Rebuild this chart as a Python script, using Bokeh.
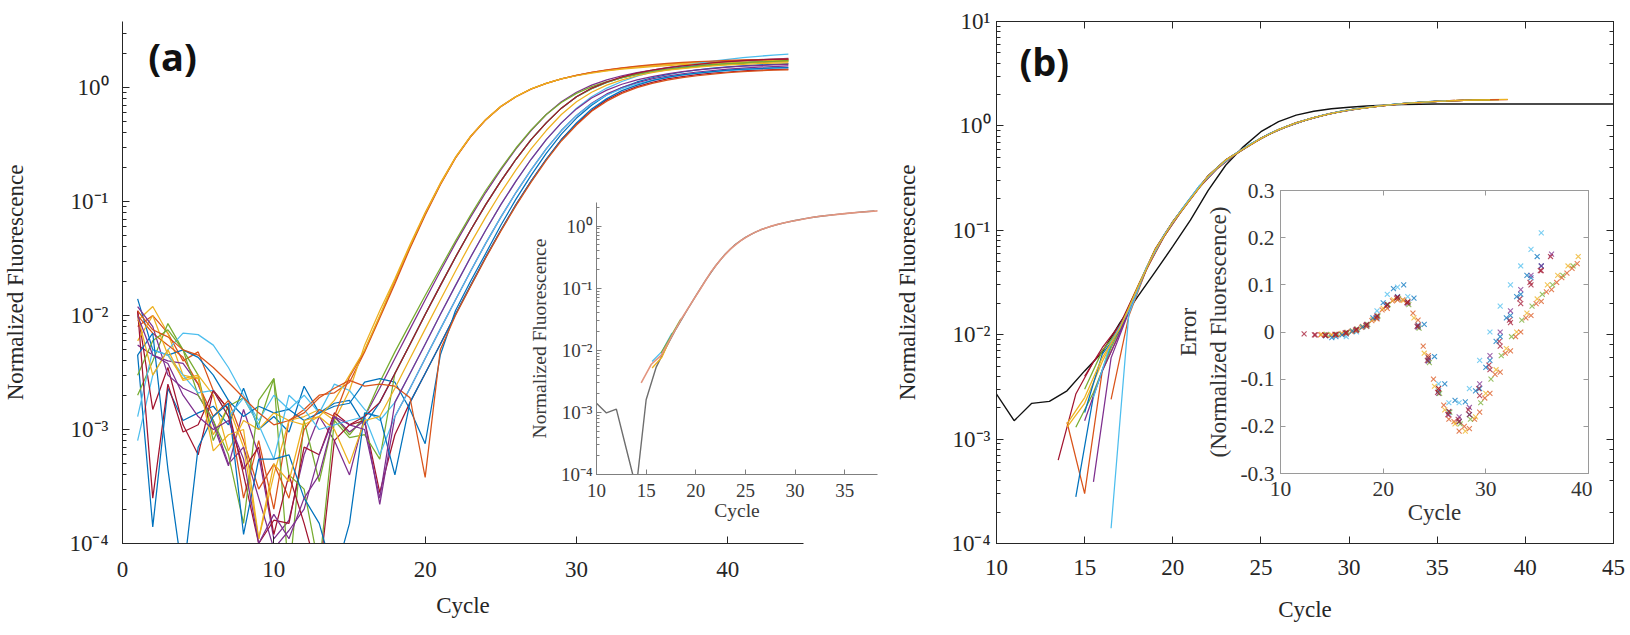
from bokeh.plotting import figure
from bokeh.models import (LogAxis, LinearAxis, FixedTicker, CustomJSTickFormatter, Label)
from bokeh.layouts import row, column
from bokeh.embed import file_html
from bokeh.resources import INLINE

# ---------------------------------------------------------------- data
# (a) amplification curves, one value per cycle
cycles_a = list(range(1, 45))

run01 = [4.5e-3, 1.4e-4, 2.3e-3, 1.2e-3, 1.4e-3, 1.6e-3, 1.1e-3, 2.3e-3, 1.0e-3, 1.3e-3, 9.5e-4, 2.4e-3, 1.4e-3, 1.7e-3, 1.8e-3, 1.1e-3,
         1.73e-3, 3.1e-3, 5.6e-3, 1.02e-2, 1.83e-2, 3.25e-2, 5.6e-2, 9.4e-2, 0.151, 0.235, 0.35, 0.49, 0.66, 0.83, 0.98, 1.11, 1.22, 1.31,
         1.39, 1.45, 1.51, 1.56, 1.60, 1.64, 1.67, 1.70, 1.72, 1.74]
run02 = [8e-3, 1e-2, 7e-3, 4e-3, 4.8e-3, 2.2e-3, 1.5e-3, 2.5e-4, 8e-4, 2e-4, 1.2e-3, 1.5e-3, 2e-3, 2.1e-3,
         2.6e-3, 4.8e-3, 9.5e-3, 1.9e-2, 3.9e-2, 7.6e-2, 0.14, 0.24, 0.37, 0.52, 0.68, 0.83, 0.97, 1.09, 1.19, 1.28, 1.36, 1.42, 1.48,
         1.53, 1.57, 1.61, 1.64, 1.67, 1.69, 1.71, 1.73, 1.74, 1.75, 1.76]
run03 = [9e-3, 1.2e-2, 7e-3, 3e-3, 2.8e-3, 9e-4, 1.6e-3, 7e-4, 1.1e-4, 4e-4, 1.2e-3, 1.3e-3, 1.5e-3, 1.2e-3, 2.2e-3,
         5.5e-3, 1.1e-2, 2.1e-2, 4.2e-2, 8e-2, 0.145, 0.245, 0.375, 0.525, 0.685, 0.835, 0.975, 1.09, 1.19, 1.28, 1.35, 1.41, 1.47,
         1.52, 1.56, 1.60, 1.63, 1.66, 1.68, 1.70, 1.71, 1.72, 1.73, 1.74]
run04 = [5.5e-3, 4.5e-3, 4e-3, 3.8e-3, 2.5e-3, 1.1e-3, 4.8e-4, 1.5e-3, 6e-4, 1.1e-4, 1.6e-4, 6e-4, 1.3e-3, 8e-4, 4e-4,
         1.3e-3, 2.3e-3, 4.2e-3, 7.6e-3, 1.37e-2, 2.45e-2, 4.3e-2, 7.3e-2, 0.12, 0.19, 0.29, 0.42, 0.58, 0.75, 0.91, 1.05, 1.17, 1.27,
         1.35, 1.42, 1.50, 1.56, 1.61, 1.65, 1.69, 1.72, 1.75, 1.78, 1.80]
run05 = [2e-3, 4e-3, 8.5e-3, 5e-3, 3e-3, 8e-4, 1.6e-3, 1.9e-3, 1.1e-3, 2.8e-3, 5e-5, 1.2e-3, 3.5e-4, 1.3e-3, 9e-4,
         1.3e-3, 2.6e-3, 4.8e-3, 8.5e-3, 1.5e-2, 2.6e-2, 4.5e-2, 7.6e-2, 0.125, 0.195, 0.295, 0.425, 0.58, 0.74, 0.89, 1.02, 1.13,
         1.22, 1.30, 1.37, 1.43, 1.48, 1.53, 1.57, 1.60, 1.63, 1.66, 1.68, 1.70]
run06 = [8e-4, 3e-3, 5e-3, 7e-3, 6.8e-3, 5.5e-3, 3.5e-3, 2e-3, 1.2e-3, 2e-3, 1.5e-3, 2e-3, 1.4e-3, 2.5e-3, 2.2e-3, 1.5e-3, 1.2e-3,
         1.73e-3, 3.1e-3, 5.6e-3, 1.02e-2, 1.83e-2, 3.25e-2, 5.6e-2, 9.4e-2, 0.151, 0.235, 0.35, 0.49, 0.66, 0.83, 0.99, 1.13, 1.26,
         1.37, 1.47, 1.56, 1.64, 1.71, 1.77, 1.83, 1.88, 1.93, 1.97]
run07 = [1.1e-2, 1.5e-3, 3.5e-3, 1.1e-3, 6e-4, 2.2e-3, 1.5e-3, 4e-4, 1e-4, 1.6e-4, 1.5e-4, 7e-4, 6e-4, 1.4e-3, 1.1e-3, 1.2e-3, 2.8e-4, 9e-4,
         1.73e-3, 3.1e-3, 5.6e-3, 1.02e-2, 1.83e-2, 3.25e-2, 5.6e-2, 9.4e-2, 0.151, 0.235, 0.35, 0.48, 0.63, 0.78, 0.91, 1.02, 1.11,
         1.19, 1.25, 1.30, 1.34, 1.37, 1.40, 1.42, 1.44, 1.45]
run08 = [1.4e-2, 5e-3, 4.5e-3, 5e-3, 4.3e-3, 3e-3, 1.8e-3, 1.3e-3, 1.6e-3, 1.4e-3, 1.5e-3, 1.2e-3, 1.4e-3, 1.6e-3, 1.7e-3, 2.6e-3, 2.8e-3,
         2.6e-3, 1.5e-3, 7.5e-4,
         4.5e-3, 1.1e-2, 2e-2, 3.5e-2, 6.2e-2, 0.105, 0.17, 0.265, 0.39, 0.54, 0.70, 0.86, 1.00, 1.12, 1.22, 1.30, 1.37, 1.43, 1.48,
         1.52, 1.55, 1.58, 1.60, 1.62]
run09 = [1e-2, 7e-3, 5.5e-3, 4.3e-3, 2.5e-3, 1.3e-3, 1.8e-3, 8e-4, 3e-4, 5e-4, 2.5e-4, 1e-3, 1.5e-3, 1.3e-3,
         2.9e-3, 4.9e-3, 9.8e-3, 2e-2, 4e-2, 7.8e-2, 0.142, 0.242, 0.372, 0.522, 0.682, 0.832, 0.972, 1.09, 1.19, 1.28, 1.36, 1.43,
         1.49, 1.54, 1.59, 1.63, 1.66, 1.69, 1.71, 1.73, 1.75, 1.76, 1.77, 1.78]
run10 = [6e-3, 1e-2, 4.5e-3, 2.8e-3, 3e-3, 2e-3, 6.5e-4, 1.2e-3, 1e-3, 1.4e-3, 1.2e-3, 1.1e-3, 1.3e-3, 1.8e-3,
         3e-3, 5e-3, 1e-2, 2.05e-2, 4.1e-2, 7.9e-2, 0.143, 0.243, 0.373, 0.523, 0.683, 0.833, 0.973, 1.09, 1.19, 1.27, 1.34, 1.40,
         1.45, 1.49, 1.53, 1.56, 1.59, 1.61, 1.63, 1.65, 1.66, 1.67, 1.68, 1.69]
run11 = [1.2e-2, 8e-3, 3e-3, 2.3e-3, 2e-3, 1.2e-3, 5e-4, 7e-4, 2.5e-4, 9e-5, 1.3e-4, 2e-4, 6e-4, 1.3e-3, 9.5e-4, 1.2e-3, 2.2e-4, 1.3e-3,
         2.3e-3, 4.2e-3, 7.6e-3, 1.37e-2, 2.45e-2, 4.3e-2, 7.3e-2, 0.12, 0.19, 0.29, 0.42, 0.57, 0.73, 0.88, 1.0, 1.1, 1.19, 1.26,
         1.32, 1.37, 1.41, 1.45, 1.48, 1.51, 1.53, 1.55]
run12 = [3e-3, 6e-3, 7.5e-3, 5e-3, 2e-3, 1.2e-3, 6e-4, 1.5e-4, 1.8e-3, 2.8e-3, 4e-4, 3e-4, 6e-5, 1.2e-3, 8.5e-4, 9e-4, 5.5e-4,
         3.1e-3, 5.6e-3, 1.02e-2, 1.83e-2, 3.25e-2, 5.6e-2, 9.4e-2, 0.151, 0.235, 0.35, 0.49, 0.66, 0.83, 0.98, 1.11, 1.22, 1.31,
         1.39, 1.45, 1.50, 1.55, 1.59, 1.62, 1.65, 1.68, 1.70, 1.72]
run13 = [1.3e-3, 5e-3, 4.5e-3, 3e-3, 2.1e-3, 2.2e-3, 1.3e-3, 1.9e-3, 1.1e-3, 5.5e-4, 2e-3, 1.5e-3, 1e-3, 1.1e-3, 1.2e-3, 1.3e-3, 6e-4, 1.3e-3,
         2.3e-3, 4.2e-3, 7.6e-3, 1.37e-2, 2.45e-2, 4.3e-2, 7.3e-2, 0.12, 0.19, 0.29, 0.42, 0.57, 0.72, 0.86, 0.98, 1.08, 1.16, 1.23,
         1.29, 1.34, 1.38, 1.41, 1.44, 1.46, 1.48, 1.50]
run14 = [1.1e-2, 2.5e-4, 2.5e-3, 9.5e-4, 1.1e-3, 2.2e-3, 1.3e-3, 4.5e-4, 7e-4, 1.2e-4, 4e-4, 1.5e-4, 5e-5, 8e-4, 1.1e-3, 1.3e-3,
         1.73e-3, 3.1e-3, 5.6e-3, 1.02e-2, 1.83e-2, 3.25e-2, 5.6e-2, 9.4e-2, 0.151, 0.235, 0.35, 0.49, 0.66, 0.83, 0.99, 1.12, 1.24,
         1.34, 1.42, 1.49, 1.55, 1.60, 1.65, 1.69, 1.72, 1.75, 1.77, 1.78]
run15 = [4.5e-3, 7e-3, 4.5e-4, 5e-5, 7e-4, 1.3e-3, 1.7e-3, 1.2e-4, 5.5e-4, 5.5e-4, 6e-4, 2.5e-4, 1.5e-4, 5e-5, 1.5e-4, 1.4e-3, 1.3e-3, 4e-4,
         1.73e-3, 3.1e-3, 5.6e-3, 1.02e-2, 1.83e-2, 3.25e-2, 5.6e-2, 9.4e-2, 0.151, 0.235, 0.35, 0.49, 0.65, 0.80, 0.94, 1.05, 1.15,
         1.23, 1.29, 1.34, 1.38, 1.42, 1.45, 1.47, 1.49, 1.50]
run16 = [1.1e-2, 7.5e-3, 6.5e-3, 5e-3, 4.5e-3, 3.5e-3, 2.6e-3, 1.9e-3, 1.4e-3, 1.1e-3, 1.2e-3, 1.4e-3, 1.9e-3, 2.3e-3, 2.7e-3, 2.4e-3,
         2.5e-3, 2.4e-3, 1.9e-3, 3.8e-4,
         5e-3, 1e-2, 1.8e-2, 3.2e-2, 5.5e-2, 9.2e-2, 0.148, 0.23, 0.34, 0.47, 0.62, 0.76, 0.89, 1.0, 1.09, 1.16, 1.22, 1.27, 1.31,
         1.35, 1.38, 1.40, 1.42, 1.43]
run17 = [1e-2, 3e-3, 5e-3, 2.7e-3, 2.9e-3, 6.5e-4, 9e-4, 1e-3, 1.1e-4, 5e-4, 3.5e-4, 1.2e-3, 1.3e-3, 1e-3, 5e-4, 1.2e-3, 1.3e-3,
         2.3e-3, 4.2e-3, 7.6e-3, 1.37e-2, 2.45e-2, 4.3e-2, 7.3e-2, 0.12, 0.19, 0.29, 0.42, 0.58, 0.75, 0.91, 1.05, 1.17, 1.27, 1.35,
         1.42, 1.47, 1.51, 1.55, 1.58, 1.60, 1.62, 1.64, 1.65]
run18 = [1e-2, 4.5e-3, 3.8e-3, 2e-3, 1.3e-3, 1e-3, 1.2e-3, 5.5e-4, 1e-4, 1.8e-4, 1.1e-4, 2.5e-4, 4e-4, 1.3e-3, 1.1e-3, 1e-3, 2.5e-4,
         1.73e-3, 3.1e-3, 5.6e-3, 1.02e-2, 1.83e-2, 3.25e-2, 5.6e-2, 9.4e-2, 0.151, 0.235, 0.35, 0.49, 0.65, 0.81, 0.95, 1.07, 1.17,
         1.25, 1.32, 1.38, 1.43, 1.47, 1.51, 1.54, 1.56, 1.58, 1.60]
runs_a = [run01, run02, run03, run04, run05, run06, run07, run08, run09,
          run10, run11, run12, run13, run14, run15, run16, run17, run18]

# (a) inset: one reference run plus the short overlapping runs
inset_cycles = list(range(10, 39))
inset_ref = [1.4e-3, 9.8e-4, 1.13e-3, 2.6e-4, 6e-5, 1.6e-3, 5.3e-3, 1.1e-2, 2.2e-2, 4.1e-2, 7.5e-2, 0.135, 0.23, 0.36, 0.51,
             0.66, 0.80, 0.93, 1.04, 1.14, 1.23, 1.32, 1.40, 1.47, 1.53, 1.59, 1.65, 1.70, 1.75]
inset_fit_x = [14.5, 15.5, 16.5, 17.5, 18.5, 19.5, 20.5, 21.5, 22.5, 23.5, 24.5, 25.5, 26.5, 27.5, 28.5, 29.5, 30.5,
               31.5, 32.5, 33.5, 34.5, 35.5, 36.5, 37.5, 38.5]
inset_fit = [3e-3, 5.9e-3, 8.3e-3, 1.6e-2, 3.1e-2, 5.6e-2, 0.10, 0.18, 0.29, 0.43, 0.58, 0.73, 0.87, 0.99, 1.09, 1.19,
             1.27, 1.36, 1.44, 1.50, 1.56, 1.62, 1.67, 1.72, 1.77]
inset_short_x = [[15.6, 16.6, 17.6], [15.6, 16.6, 17.6], [16.5, 17.5, 18.5]]
inset_short_y = [[6.6e-3, 9.6e-3, 1.9e-2], [5.2e-3, 7.8e-3, 1.8e-2], [9e-3, 1.7e-2, 3.2e-2]]

# (b) model curve (black) and aligned runs
model_cycles = list(range(10, 46))
model_curve = [2.7e-3, 1.5e-3, 2.2e-3, 2.3e-3, 2.9e-3, 4.5e-3, 6.8e-3, 1.3e-2, 2.3e-2, 4e-2, 7e-2, 0.125, 0.24, 0.42, 0.63,
               0.88, 1.1, 1.27, 1.38, 1.46, 1.51, 1.55, 1.58, 1.60, 1.61, 1.62, 1.62, 1.62, 1.62, 1.62, 1.62, 1.62,
               1.62, 1.62, 1.62, 1.62]
aligned_start = [13.5, 14.0, 14.5, 14.0, 14.5, 15.5, 16.5, 16.5, 15.0, 15.0, 15.0, 15.0, 15.5, 14.0]
al01 = [6.3e-4, 2.7e-3, 5.5e-3, 9e-3, 0.0165, 0.043, 0.089, 0.156, 0.262, 0.392, 0.532, 0.683, 0.843, 0.99, 1.13, 1.26,
        1.37, 1.46, 1.535, 1.60, 1.655, 1.70, 1.735, 1.76]
al02 = [1.45e-3, 3e-4, 4.5e-3, 1.05e-2, 0.027, 0.064, 0.118, 0.198, 0.326, 0.465, 0.595, 0.755, 0.915, 1.065, 1.195,
        1.315, 1.415, 1.495, 1.565, 1.625, 1.675, 1.715, 1.745, 1.765, 1.775, 1.785]
al03 = [2.8e-4, 2.6e-3, 8e-3, 0.0168, 0.0435, 0.09, 0.158, 0.265, 0.395, 0.535, 0.685, 0.845, 0.995, 1.135, 1.265, 1.375,
        1.465, 1.54, 1.605, 1.66, 1.705, 1.74]
al04 = [1.3e-3, 2.2e-3, 5.5e-3, 1.2e-2, 0.029, 0.066, 0.121, 0.202, 0.332, 0.472, 0.602, 0.762, 0.922, 1.072, 1.202,
        1.322, 1.422, 1.502, 1.572, 1.632, 1.682, 1.722, 1.752, 1.772, 1.782, 1.792]
al05 = [1.3e-3, 2.8e-3, 7.5e-3, 0.0165, 0.0428, 0.0875, 0.154, 0.258, 0.388, 0.528, 0.678, 0.838, 0.988, 1.128, 1.258,
        1.368, 1.458, 1.533, 1.598, 1.653, 1.698, 1.733, 1.758, 1.773, 1.783]
al06 = [3.9e-4, 6e-3, 0.0164, 0.0425, 0.087, 0.153, 0.257, 0.386, 0.526, 0.676, 0.836, 0.986, 1.126, 1.256, 1.366, 1.456,
        1.531, 1.596, 1.651, 1.696, 1.731, 1.756]
al07 = [2.4e-3, 0.015, 0.042, 0.087, 0.154, 0.258, 0.388, 0.528, 0.678, 0.838, 0.988, 1.128, 1.258, 1.368, 1.458, 1.533,
        1.598, 1.653, 1.698, 1.733, 1.758, 1.773, 1.783]
al08 = [1.4e-4, 0.0155, 0.0435, 0.09, 0.158, 0.264, 0.395, 0.535, 0.686, 0.846, 0.996, 1.136, 1.266, 1.376, 1.466, 1.541,
        1.606, 1.661, 1.706, 1.741]
al09 = [4e-3, 7.5e-3, 1.25e-2, 0.0285, 0.066, 0.121, 0.202, 0.333, 0.473, 0.603, 0.763, 0.923, 1.073, 1.203, 1.323,
        1.423, 1.503, 1.573, 1.633, 1.683, 1.723, 1.753]
al10 = [1.8e-3, 6.5e-3, 1.1e-2, 0.0278, 0.065, 0.121, 0.201, 0.331, 0.471, 0.601, 0.761, 0.921, 1.071, 1.201, 1.321,
        1.421, 1.501, 1.571, 1.631, 1.681, 1.721]
al11 = [1.5e-3, 4.5e-3, 0.0105, 0.0275, 0.0645, 0.12, 0.2, 0.33, 0.47, 0.6, 0.76, 0.92, 1.07, 1.2, 1.32, 1.42, 1.5, 1.57,
        1.63, 1.68, 1.72, 1.75, 1.77]
al12 = [3e-3, 7e-3, 1.15e-2, 0.028, 0.065, 0.12, 0.2, 0.33, 0.47, 0.6, 0.76, 0.92, 1.07, 1.2, 1.32, 1.42, 1.5, 1.57, 1.63,
        1.68, 1.72, 1.75, 1.77, 1.78]
al13 = [2.5e-3, 8.5e-3, 0.017, 0.044, 0.09, 0.158, 0.265, 0.395, 0.535, 0.685, 0.845, 0.995, 1.135, 1.265, 1.375, 1.465,
        1.54, 1.605, 1.66, 1.705, 1.74]
al14 = [1.4e-3, 2.5e-3, 6e-3, 1.15e-2, 0.028, 0.065, 0.12, 0.2, 0.33, 0.47, 0.6, 0.76, 0.92, 1.07, 1.2, 1.32, 1.42, 1.5,
        1.57, 1.63, 1.68, 1.72, 1.75, 1.77, 1.78]
aligned_runs = [al01, al02, al03, al04, al05, al06, al07, al08, al09, al10, al11, al12, al13, al14]
aligned_colors = [6, 1, 0, 2, 4, 3, 1, 5, 6, 0, 3, 4, 5, 2]

# (b) inset: fit error per run
err_start = [14.4, 13.9, 14.0, 15.4, 14.5, 16.4, 12.3, 15.0, 14.4, 13.4]
err_colors = [0, 1, 2, 3, 4, 5, 6, 0, 1, 6]
err01 = [-0.008, -0.01, -0.004, 0.004, 0.014, 0.03, 0.057, 0.075, 0.063, 0.012, -0.06, -0.125, -0.17, -0.19, -0.175,
         -0.12, -0.06, -0.01, 0.035, 0.08, 0.115, 0.14]
err02 = [-0.006, -0.007, -0.004, 0.001, 0.01, 0.024, 0.047, 0.066, 0.068, 0.04, -0.03, -0.1, -0.155, -0.19, -0.2, -0.185,
         -0.14, -0.09, -0.045, -0.01, 0.03, 0.06, 0.085, 0.105, 0.125, 0.145]
err03 = [-0.005, -0.006, -0.003, 0.003, 0.012, 0.027, 0.05, 0.068, 0.067, 0.03, -0.045, -0.115, -0.165, -0.195, -0.21,
         -0.18, -0.13, -0.08, -0.035, 0.0, 0.04, 0.07, 0.1, 0.12, 0.14, 0.16]
err04 = [-0.006, -0.003, 0.005, 0.015, 0.033, 0.058, 0.073, 0.06, 0.01, -0.062, -0.13, -0.175, -0.18, -0.16, -0.11, -0.05,
         0.0, 0.045, 0.09, 0.12, 0.14, 0.165]
err05 = [-0.005, -0.005, -0.001, 0.006, 0.016, 0.034, 0.058, 0.071, 0.058, 0.008, -0.065, -0.13, -0.17, -0.195, -0.185,
         -0.15, -0.1, -0.05, -0.01, 0.025, 0.055, 0.08, 0.1, 0.12, 0.14]
err06 = [-0.01, 0.0, 0.012, 0.045, 0.08, 0.095, 0.075, 0.015, -0.055, -0.11, -0.15, -0.15, -0.12, -0.06, 0.0, 0.055, 0.1,
         0.14, 0.175, 0.21]
err07 = [-0.004, -0.006, -0.006, -0.005, -0.002, 0.004, 0.014, 0.03, 0.055, 0.072, 0.062, 0.012, -0.06, -0.128, -0.175,
         -0.185, -0.165, -0.12, -0.07, -0.02, 0.025, 0.07, 0.105, 0.13, 0.16]
err08 = [-0.012, -0.006, 0.002, 0.011, 0.03, 0.062, 0.092, 0.1, 0.072, 0.016, -0.052, -0.11, -0.145, -0.148, -0.125,
         -0.075, -0.02, 0.03, 0.075, 0.12, 0.16]
err09 = [-0.007, -0.006, -0.003, 0.003, 0.012, 0.028, 0.05, 0.068, 0.064, 0.025, -0.05, -0.12, -0.185, -0.21, -0.205,
         -0.17, -0.13, -0.085, -0.04, 0.0, 0.035, 0.065, 0.09, 0.115, 0.135]
err10 = [-0.006, -0.007, -0.005, -0.001, 0.006, 0.016, 0.034, 0.058, 0.074, 0.064, 0.014, -0.055, -0.12, -0.168, -0.19,
         -0.175, -0.135, -0.08, -0.03, 0.02, 0.06, 0.1, 0.13]
err_runs = [err01, err02, err03, err04, err05, err06, err07, err08, err09, err10]

# tick positions
ticks_a_x = [0, 10, 20, 30, 40]
ticks_b_x = [10, 15, 20, 25, 30, 35, 40, 45]
ticks_ia_x = [10, 15, 20, 25, 30, 35]
ticks_ib_x = [10, 20, 30, 40]
ticks_ib_y = [-0.3, -0.2, -0.1, 0.0, 0.1, 0.2, 0.3]

# ---------------------------------------------------------------- style
PALETTE = ["#0072BD", "#D95319", "#EDB120", "#7E2F8E", "#77AC30", "#4DBEEE", "#A2142F"]
SERIF = "Liberation Serif"
INK = "#262626"
MAIN_TEXT = "23px"   # largest size at which the serif face is used

POW10 = """
const sup = {"0":"\u2070","1":"\u00b9","2":"\u00b2","3":"\u00b3","4":"\u2074","5":"\u2075",
             "6":"\u2076","7":"\u2077","8":"\u2078","9":"\u2079","-":"\u207b"};
const e = Math.round(Math.log10(tick));
return "10" + String(e).split("").map(c => sup[c]).join("");
"""
BLANK = "return ''"


def style_axis(ax, tick_size, label_size, color=INK, line_color=INK, tick_in=7, minor_in=4,
               label_standoff=10, axis_label_standoff=10):
    ax.axis_line_color = line_color
    ax.axis_line_width = 1
    ax.major_tick_line_color = line_color
    ax.minor_tick_line_color = line_color
    ax.major_tick_in = tick_in
    ax.major_tick_out = 0
    ax.minor_tick_in = minor_in
    ax.minor_tick_out = 0
    ax.major_label_text_font = SERIF
    ax.major_label_text_font_size = tick_size
    ax.major_label_text_color = color
    ax.major_label_standoff = label_standoff
    ax.axis_label_text_font = SERIF
    ax.axis_label_text_font_size = label_size
    ax.axis_label_text_font_style = "normal"
    ax.axis_label_text_color = color
    ax.axis_label_standoff = axis_label_standoff


def mirror_axis(ax, line_color=INK, tick_in=7, minor_in=4):
    ax.formatter = CustomJSTickFormatter(code=BLANK)
    ax.major_label_text_font = SERIF
    ax.major_label_text_font_size = "1px"
    ax.major_label_standoff = 0
    ax.axis_line_color = line_color
    ax.major_tick_line_color = line_color
    ax.minor_tick_line_color = line_color
    ax.major_tick_in = tick_in
    ax.major_tick_out = 0
    ax.minor_tick_in = minor_in
    ax.minor_tick_out = 0


def bare(p):
    p.grid.visible = False
    p.toolbar.logo = None


# ---------------------------------------------------------------- panel (a)
pa = figure(width=890, height=635, x_range=(0, 45), y_range=(1e-4, 3.8), y_axis_type="log",
            output_backend="svg", toolbar_location=None,
            min_border_left=114, min_border_right=87, min_border_top=21, min_border_bottom=92)
bare(pa)
pa.outline_line_color = None
for i, run in enumerate(runs_a):
    pa.line(cycles_a, run, line_color=PALETTE[i % 7], line_width=1.25)
style_axis(pa.xaxis[0], MAIN_TEXT, MAIN_TEXT, label_standoff=18, axis_label_standoff=13)
pa.xaxis[0].ticker = FixedTicker(ticks=ticks_a_x)
pa.xaxis[0].minor_tick_line_color = None
pa.xaxis[0].axis_label = "Cycle"
style_axis(pa.yaxis[0], MAIN_TEXT, MAIN_TEXT, label_standoff=14, axis_label_standoff=38)
pa.yaxis[0].formatter = CustomJSTickFormatter(code=POW10)
pa.yaxis[0].axis_label = "Normalized Fluorescence"
pa.add_layout(Label(x=1.7, y=1.9, text="(a)", text_font="Open Sans", text_font_style="bold",
                    text_font_size="38px", text_baseline="middle", text_color="#111111"))

# ---------------------------------------------------------------- panel (b)
pb = figure(width=740, height=635, x_range=(10, 45), y_range=(1e-4, 10), y_axis_type="log",
            output_backend="svg", toolbar_location=None,
            min_border_left=106, min_border_right=17, min_border_top=17, min_border_bottom=92)
bare(pb)
pb.outline_line_color = INK
pb.line(model_cycles, model_curve, line_color="#111111", line_width=1.4)
for start, run, ci in zip(aligned_start, aligned_runs, aligned_colors):
    xs = [start + k for k in range(len(run))]
    pb.line(xs, run, line_color=PALETTE[ci], line_width=1.25)
style_axis(pb.xaxis[0], MAIN_TEXT, MAIN_TEXT, label_standoff=16, axis_label_standoff=19)
pb.xaxis[0].ticker = FixedTicker(ticks=ticks_b_x)
pb.xaxis[0].minor_tick_line_color = None
pb.xaxis[0].axis_label = "Cycle"
style_axis(pb.yaxis[0], MAIN_TEXT, MAIN_TEXT, label_standoff=6, axis_label_standoff=28)
pb.yaxis[0].formatter = CustomJSTickFormatter(code=POW10)
pb.yaxis[0].axis_label = "Normalized Fluorescence"
right_b = LogAxis()
mirror_axis(right_b)
pb.add_layout(right_b, "right")
top_b = LinearAxis(ticker=FixedTicker(ticks=ticks_b_x))
mirror_axis(top_b)
top_b.minor_tick_line_color = None
pb.add_layout(top_b, "above")
pb.add_layout(Label(x=11.3, y=4.2, text="(b)", text_font="Open Sans", text_font_style="bold",
                    text_font_size="38px", text_baseline="middle", text_color="#111111"))

# ---------------------------------------------------------------- inset in (a)
GRAY = "#7f7f7f"
ia = figure(width=393, height=340, x_range=(10, 38.3), y_range=(1e-4, 2.4), y_axis_type="log",
            output_backend="svg", toolbar_location=None,
            min_border_left=85, min_border_right=4, min_border_top=8, min_border_bottom=60,
            background_fill_alpha=0, border_fill_alpha=0)
bare(ia)
ia.outline_line_color = None
ia.line(inset_cycles, inset_ref, line_color="#6e6e6e", line_width=1.4)
for xs, ys, ci in zip(inset_short_x, inset_short_y, [5, 2, 4]):
    ia.line(xs, ys, line_color=PALETTE[ci], line_width=1.3)
ia.line(inset_fit_x, inset_fit, line_color="#E3957F", line_width=1.6)
style_axis(ia.xaxis[0], "19px", "19.5px", color="#3a3a3a", line_color=GRAY, tick_in=5, minor_in=3,
           label_standoff=9, axis_label_standoff=0)
ia.xaxis[0].ticker = FixedTicker(ticks=ticks_ia_x)
ia.xaxis[0].minor_tick_line_color = None
ia.xaxis[0].axis_label = "Cycle"
style_axis(ia.yaxis[0], "19px", "19.5px", color="#3a3a3a", line_color=GRAY, tick_in=5, minor_in=3,
           label_standoff=4, axis_label_standoff=8)
ia.yaxis[0].formatter = CustomJSTickFormatter(code=POW10)
ia.yaxis[0].axis_label = "Normalized Fluorescence"
ia.styles = {"position": "absolute", "left": "488px", "top": "194px"}

# ---------------------------------------------------------------- inset in (b)
FRAME = "#9a9a9a"
ib = figure(width=420, height=363, x_range=(10, 40), y_range=(-0.3, 0.3),
            output_backend="svg", toolbar_location=None,
            min_border_left=100, min_border_right=4, min_border_top=20, min_border_bottom=60,
            background_fill_color="white", border_fill_alpha=0)
bare(ib)
ib.outline_line_color = FRAME
for start, errs, ci in zip(err_start, err_runs, err_colors):
    xs = [start + k for k in range(len(errs))]
    ib.scatter(xs, errs, marker="x", size=7, line_color=PALETTE[ci], line_width=1.1, line_alpha=0.75)
style_axis(ib.xaxis[0], "21.5px", "23px", color="#333333", line_color=FRAME, tick_in=5,
           label_standoff=8, axis_label_standoff=1)
ib.xaxis[0].ticker = FixedTicker(ticks=ticks_ib_x)
ib.xaxis[0].minor_tick_line_color = None
ib.xaxis[0].axis_label = "Cycle"
style_axis(ib.yaxis[0], "21.5px", "23px", color="#333333", line_color=FRAME, tick_in=5,
           label_standoff=6, axis_label_standoff=6)
ib.yaxis[0].ticker = FixedTicker(ticks=ticks_ib_y)
ib.yaxis[0].minor_tick_line_color = None
ib.yaxis[0].formatter = CustomJSTickFormatter(code="""
const v = Math.round(tick * 10) / 10;
return v === 0 ? "0" : v.toFixed(1);
""")
ib.yaxis[0].axis_label = "(Normalized Fluorescence)"
# second label line, stacked outside the first one
err_title = LinearAxis(ticker=FixedTicker(ticks=[]), axis_label="Error")
style_axis(err_title, "21.5px", "23px", color="#333333", line_color=None, label_standoff=0,
           axis_label_standoff=3)
err_title.major_tick_line_color = None
err_title.minor_tick_line_color = None
ib.add_layout(err_title, "left")
right_ib = LinearAxis(ticker=FixedTicker(ticks=ticks_ib_y))
mirror_axis(right_ib, line_color=FRAME, tick_in=5)
right_ib.minor_tick_line_color = None
ib.add_layout(right_ib, "right")
top_ib = LinearAxis(ticker=FixedTicker(ticks=ticks_ib_x))
mirror_axis(top_ib, line_color=FRAME, tick_in=5)
top_ib.minor_tick_line_color = None
ib.add_layout(top_ib, "above")
ib.styles = {"position": "absolute", "left": "1172px", "top": "170px"}

# ---------------------------------------------------------------- page
root = column(row(pa, pb), ia, ib)
root.styles = {"position": "relative"}
try:
    from bokeh.models import GlobalInlineStyleSheet
    root.stylesheets = [GlobalInlineStyleSheet(css="html, body { margin: 0; padding: 0; }")]
except ImportError:
    pass

open("out.html", "w").write(file_html(root, INLINE, title="qPCR amplification curves"))
